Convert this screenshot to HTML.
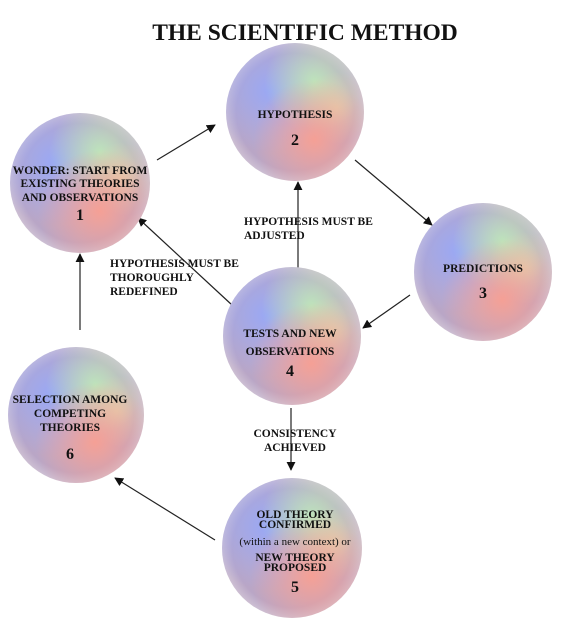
<!DOCTYPE html>
<html><head><meta charset="utf-8"><style>
body{margin:0;background:#fff;width:569px;height:626px;overflow:hidden}
svg{display:block}
text{font-family:"Liberation Serif",serif;font-weight:bold;fill:#111}
</style></head><body>
<svg width="569" height="626" viewBox="0 0 569 626">
<defs>
<radialGradient id="base" cx="50%" cy="50%" r="50%"><stop offset="0" stop-color="#c8b0c8"/><stop offset="0.85" stop-color="#b9a6c6"/><stop offset="1" stop-color="#cdbfd3"/></radialGradient>
<radialGradient id="blue" cx="32%" cy="35%" r="45%"><stop offset="0" stop-color="#95a8fa" stop-opacity="0.9"/><stop offset="1" stop-color="#95a8fa" stop-opacity="0"/></radialGradient>
<radialGradient id="green" cx="64%" cy="28%" r="36%"><stop offset="0" stop-color="#bfeab8" stop-opacity="0.9"/><stop offset="1" stop-color="#bfeab8" stop-opacity="0"/></radialGradient>
<radialGradient id="red" cx="64%" cy="70%" r="44%"><stop offset="0" stop-color="#fb9f90" stop-opacity="0.9"/><stop offset="1" stop-color="#fb9f90" stop-opacity="0"/></radialGradient>
<radialGradient id="yellow" cx="80%" cy="47%" r="26%"><stop offset="0" stop-color="#eed9a8" stop-opacity="0.7"/><stop offset="1" stop-color="#eed9a8" stop-opacity="0"/></radialGradient>
<marker id="ah" viewBox="0 0 10 10" refX="9" refY="5" markerWidth="9" markerHeight="9" orient="auto" markerUnits="userSpaceOnUse"><path d="M0,0L10,5L0,10z" fill="#111"/></marker>
</defs>
<text x="305" y="40" text-anchor="middle" font-size="23.5">THE SCIENTIFIC METHOD</text>

<g stroke="#222" stroke-width="1.2" marker-end="url(#ah)">
<line x1="157" y1="160" x2="215" y2="125"/>
<line x1="355" y1="160" x2="432" y2="225"/>
<line x1="410" y1="295" x2="363" y2="328"/>
<line x1="298" y1="268" x2="298" y2="182"/>
<line x1="232" y1="305" x2="138" y2="218"/>
<line x1="291" y1="408" x2="291" y2="470"/>
<line x1="215" y1="540" x2="115" y2="478"/>
<line x1="80" y1="330" x2="80" y2="254"/>
</g>

<g>
<circle cx="80" cy="183" r="70" fill="url(#base)"/><circle cx="80" cy="183" r="70" fill="url(#blue)"/><circle cx="80" cy="183" r="70" fill="url(#green)"/><circle cx="80" cy="183" r="70" fill="url(#yellow)"/><circle cx="80" cy="183" r="70" fill="url(#red)"/>
<text x="80" y="174" text-anchor="middle" font-size="11.5">WONDER: START FROM</text>
<text x="80" y="187" text-anchor="middle" font-size="11.5">EXISTING  THEORIES</text>
<text x="80" y="201" text-anchor="middle" font-size="11.5">AND OBSERVATIONS</text>
<text x="80" y="220" text-anchor="middle" font-size="16">1</text>
</g>
<g>
<circle cx="295" cy="112" r="69" fill="url(#base)"/><circle cx="295" cy="112" r="69" fill="url(#blue)"/><circle cx="295" cy="112" r="69" fill="url(#green)"/><circle cx="295" cy="112" r="69" fill="url(#yellow)"/><circle cx="295" cy="112" r="69" fill="url(#red)"/>
<text x="295" y="118" text-anchor="middle" font-size="11.5">HYPOTHESIS</text>
<text x="295" y="145" text-anchor="middle" font-size="16">2</text>
</g>
<g>
<circle cx="483" cy="272" r="69" fill="url(#base)"/><circle cx="483" cy="272" r="69" fill="url(#blue)"/><circle cx="483" cy="272" r="69" fill="url(#green)"/><circle cx="483" cy="272" r="69" fill="url(#yellow)"/><circle cx="483" cy="272" r="69" fill="url(#red)"/>
<text x="483" y="272" text-anchor="middle" font-size="11.5">PREDICTIONS</text>
<text x="483" y="298" text-anchor="middle" font-size="16">3</text>
</g>
<g>
<circle cx="292" cy="336" r="69" fill="url(#base)"/><circle cx="292" cy="336" r="69" fill="url(#blue)"/><circle cx="292" cy="336" r="69" fill="url(#green)"/><circle cx="292" cy="336" r="69" fill="url(#yellow)"/><circle cx="292" cy="336" r="69" fill="url(#red)"/>
<text x="290" y="337" text-anchor="middle" font-size="11.5">TESTS AND NEW</text>
<text x="290" y="355" text-anchor="middle" font-size="11.5">OBSERVATIONS</text>
<text x="290" y="376" text-anchor="middle" font-size="16">4</text>
</g>
<g>
<circle cx="76" cy="415" r="68" fill="url(#base)"/><circle cx="76" cy="415" r="68" fill="url(#blue)"/><circle cx="76" cy="415" r="68" fill="url(#green)"/><circle cx="76" cy="415" r="68" fill="url(#yellow)"/><circle cx="76" cy="415" r="68" fill="url(#red)"/>
<text x="70" y="403" text-anchor="middle" font-size="11.5">SELECTION AMONG</text>
<text x="70" y="417" text-anchor="middle" font-size="11.5">COMPETING</text>
<text x="70" y="431" text-anchor="middle" font-size="11.5">THEORIES</text>
<text x="70" y="459" text-anchor="middle" font-size="16">6</text>
</g>
<g>
<circle cx="292" cy="548" r="70" fill="url(#base)"/><circle cx="292" cy="548" r="70" fill="url(#blue)"/><circle cx="292" cy="548" r="70" fill="url(#green)"/><circle cx="292" cy="548" r="70" fill="url(#yellow)"/><circle cx="292" cy="548" r="70" fill="url(#red)"/>
<text x="295" y="518" text-anchor="middle" font-size="11.5">OLD THEORY</text>
<text x="295" y="528" text-anchor="middle" font-size="11.5">CONFIRMED</text>
<text x="295" y="545" text-anchor="middle" font-size="11" style="font-weight:normal">(within a new context) or</text>
<text x="295" y="561" text-anchor="middle" font-size="11.5">NEW THEORY</text>
<text x="295" y="571" text-anchor="middle" font-size="11.5">PROPOSED</text>
<text x="295" y="592" text-anchor="middle" font-size="16">5</text>
</g>

<g font-size="11.5">
<text x="244" y="225">HYPOTHESIS MUST BE</text>
<text x="244" y="239">ADJUSTED</text>
<text x="110" y="267">HYPOTHESIS MUST BE</text>
<text x="110" y="281">THOROUGHLY</text>
<text x="110" y="295">REDEFINED</text>
<text x="295" y="437" text-anchor="middle">CONSISTENCY</text>
<text x="295" y="451" text-anchor="middle">ACHIEVED</text>
</g>
</svg>
</body></html>
